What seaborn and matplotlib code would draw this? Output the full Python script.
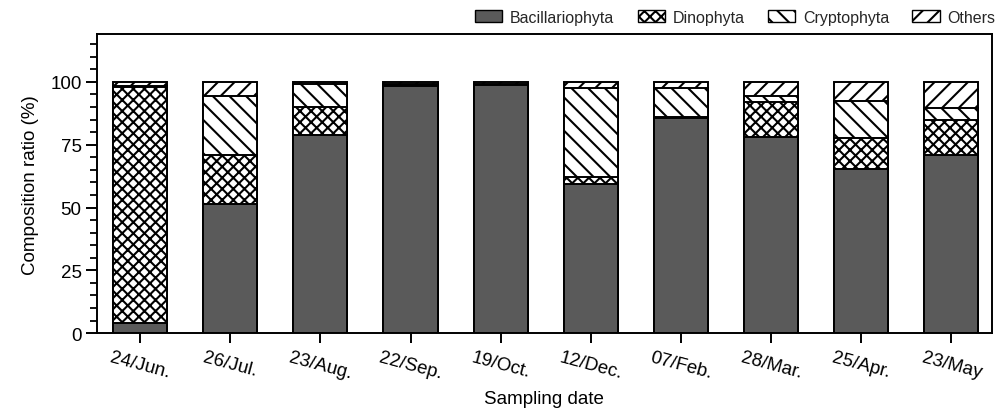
import numpy as np
import pandas as pd
import seaborn as sns
import matplotlib
matplotlib.use("Agg")
import matplotlib.pyplot as plt
from matplotlib.patches import Patch
from matplotlib.ticker import MultipleLocator

dates = ["24/Jun.", "26/Jul.", "23/Aug.", "22/Sep.", "19/Oct.",
         "12/Dec.", "07/Feb.", "28/Mar.", "25/Apr.", "23/May"]
bacillariophyta = [4, 51.5, 79, 98.5, 98.8, 59.5, 85.5, 78, 65.5, 71]
dinophyta = [94, 19.5, 11, 0.2, 0, 2.5, 0.5, 14, 12, 14]
cryptophyta = [0.5, 23.5, 9, 0.3, 0.2, 35.5, 11.5, 2.5, 15, 4.5]
others = [1.5, 5.5, 1, 1, 1, 2.5, 2.5, 5.5, 7.5, 10.5]
groups = ["Bacillariophyta", "Dinophyta", "Cryptophyta", "Others"]

sns.set_theme(style="ticks")
plt.rcParams["font.family"] = ["Liberation Sans", "DejaVu Sans"]
plt.rcParams["hatch.linewidth"] = 1.5

df = pd.DataFrame({"date": dates, "Bacillariophyta": bacillariophyta,
                   "Dinophyta": dinophyta, "Cryptophyta": cryptophyta,
                   "Others": others})
cum = df[groups].cumsum(axis=1)

styles = {
    "Bacillariophyta": dict(color="#5a5a5a", hatch=None),
    "Dinophyta": dict(color="white", hatch="xxx"),
    "Cryptophyta": dict(color="white", hatch="\\\\"),
    "Others": dict(color="white", hatch="//"),
}

fig = plt.figure(figsize=(9.98, 4.14), dpi=100)
ax = fig.add_axes([0.097, 0.193, 0.897, 0.722])

for g in reversed(groups):
    st = styles[g]
    sns.barplot(x=df["date"], y=cum[g], order=dates, color=st["color"],
                saturation=1, width=0.6, edgecolor="black", linewidth=1.4,
                hatch=st["hatch"], ax=ax, zorder=2)

ax.set_xlim(-0.48, 9.45)
ax.set_ylim(0, 119)
ax.set_yticks([0, 25, 50, 75, 100])
ax.yaxis.set_minor_locator(MultipleLocator(5))
ax.tick_params(axis="y", which="major", length=8, width=1.4, labelsize=13.5,
               color="black", labelcolor="black", pad=3)
ax.tick_params(axis="y", which="minor", length=5, width=1.3, color="black")
ax.tick_params(axis="x", which="major", length=7, width=1.4, labelsize=13.5,
               color="black", labelcolor="black", pad=4)
for lab in ax.get_xticklabels():
    lab.set_rotation(-15)
    lab.set_ha("center")
for s in ax.spines.values():
    s.set_linewidth(1.4)
    s.set_color("black")
ax.set_xlabel("Sampling date", fontsize=13.5, labelpad=6, color="black")
ax.set_ylabel("Composition ratio (%)", fontsize=13.5, labelpad=8, color="black")

handles = [Patch(facecolor=styles[g]["color"], edgecolor="black",
                 hatch=styles[g]["hatch"], linewidth=1.0, label=g) for g in groups]
fig.legend(handles=handles, loc="upper right", bbox_to_anchor=(1.004, 0.99),
           borderaxespad=0.2, borderpad=0.2,
           ncol=4, frameon=False, fontsize=11.5, handlelength=1.7, handleheight=0.75,
           columnspacing=1.45, handletextpad=0.5)

fig.savefig("out.png", dpi=100)
